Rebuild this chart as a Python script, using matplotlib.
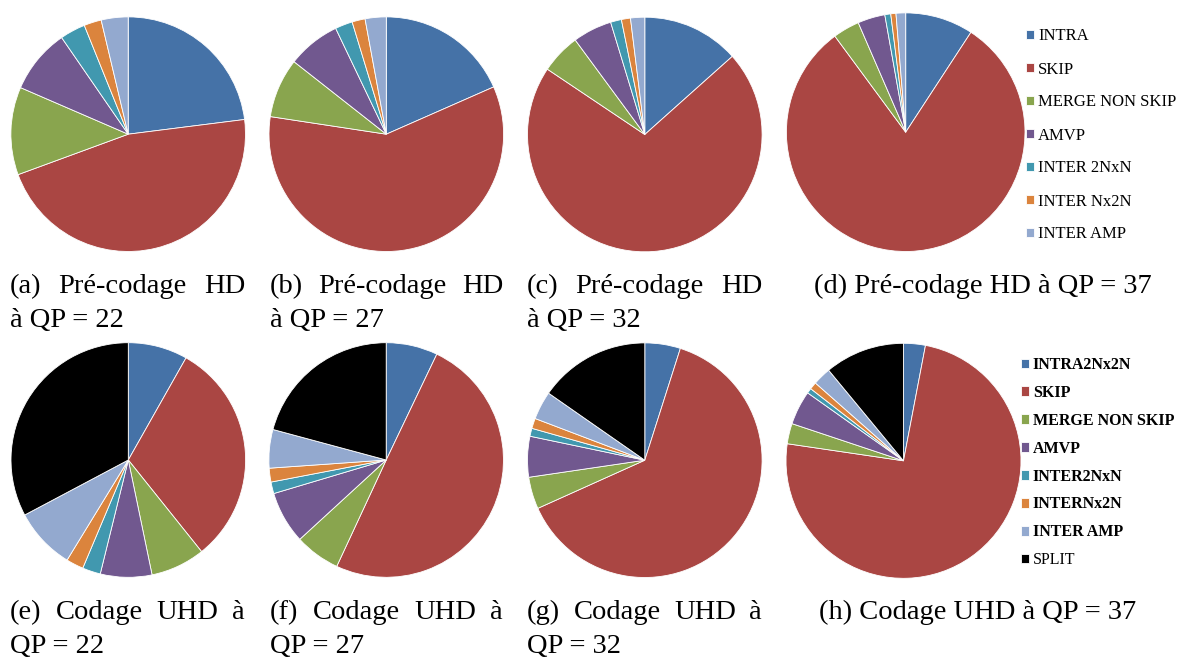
import matplotlib
matplotlib.use("Agg")
import matplotlib.pyplot as plt
from matplotlib.font_manager import FontProperties

W, H = 1182, 657

# Category names and shares (%) of each coding mode
hd_labels = ["INTRA", "SKIP", "MERGE NON SKIP", "AMVP",
             "INTER 2NxN", "INTER Nx2N", "INTER AMP"]
uhd_labels = ["INTRA2Nx2N", "SKIP", "MERGE NON SKIP", "AMVP",
              "INTER2NxN", "INTERNx2N", "INTER AMP", "SPLIT"]

hd_qp22 = [23.0, 46.4, 12.1, 8.9, 3.5, 2.4, 3.7]
hd_qp27 = [18.4, 59.0, 8.2, 7.3, 2.4, 1.8, 2.9]
hd_qp32 = [13.4, 71.0, 5.5, 5.4, 1.5, 1.25, 1.95]
hd_qp37 = [9.2, 80.6, 3.6, 3.7, 0.8, 0.7, 1.3]

uhd_qp22 = [8.2, 31.1, 7.5, 7.1, 2.5, 2.4, 8.5, 32.8]
uhd_qp27 = [7.1, 49.8, 6.25, 7.2, 1.6, 1.9, 5.3, 20.8]
uhd_qp32 = [4.9, 63.3, 4.4, 5.6, 1.1, 1.4, 3.9, 15.3]
uhd_qp37 = [3.0, 74.4, 2.8, 4.7, 0.7, 1.0, 2.5, 11.0]

hd_colors = ["#4572A7", "#AA4643", "#89A54E", "#71588F",
             "#4198AF", "#DB843D", "#93A9CF"]
uhd_colors = hd_colors + ["#000000"]

serif = "Liberation Serif"
cap_fp = FontProperties(family=serif, size=20.5)

fig = plt.figure(figsize=(W / 100, H / 100), dpi=100)
ax = fig.add_axes([0, 0, 1, 1])

# (values, colors, centre x, centre y (from top), radius)
pies = [
    (hd_qp22, hd_colors, 128.2, 134.2, 117.3),
    (hd_qp27, hd_colors, 386.3, 134.2, 117.3),
    (hd_qp32, hd_colors, 644.8, 134.5, 117.3),
    (hd_qp37, hd_colors, 905.7, 132.2, 119.3),
    (uhd_qp22, uhd_colors, 128.3, 460.0, 117.3),
    (uhd_qp27, uhd_colors, 386.2, 460.0, 117.3),
    (uhd_qp32, uhd_colors, 644.8, 460.2, 117.3),
    (uhd_qp37, uhd_colors, 903.5, 460.8, 117.5),
]

wedge_sets = []
for vals, cols, cx, cy, r in pies:
    wedges, _ = ax.pie(vals, colors=cols, startangle=90, counterclock=False,
                       center=(cx, H - cy), radius=r,
                       wedgeprops=dict(edgecolor="white", linewidth=0.6))
    wedge_sets.append(wedges)

ax.set_xlim(0, W)
ax.set_ylim(0, H)
ax.set_aspect("auto")
ax.axis("off")

renderer = fig.canvas.get_renderer()


def justified(words, x0, x1, y):
    """Spread words so the line runs from x0 to x1 (pixel units)."""
    texts = [ax.text(0, H - y, w, fontproperties=cap_fp, va="baseline",
                     ha="left") for w in words]
    widths = [t.get_window_extent(renderer).width for t in texts]
    gap = (x1 - x0 - sum(widths)) / (len(words) - 1)
    x = x0
    for t, w in zip(texts, widths):
        t.set_x(x)
        x += w + gap


def plain(s, x, y, ha="left"):
    ax.text(x, H - y, s, fontproperties=cap_fp, va="baseline", ha=ha)


# Sub-figure captions
columns = [(10, 245), (270, 503), (527, 762)]
top_tags = ["(a)", "(b)", "(c)"]
top_qp = ["22", "27", "32"]
for (x0, x1), tag, qp in zip(columns, top_tags, top_qp):
    justified([tag, "Pré-codage", "HD"], x0, x1, 293)
    plain(f"à QP = {qp}", x0, 327)
plain("(d) Pré-codage HD à QP = 37", 983, 293, ha="center")

bot_tags = ["(e)", "(f)", "(g)"]
for (x0, x1), tag, qp in zip(columns, bot_tags, top_qp):
    justified([tag, "Codage", "UHD", "à"], x0, x1, 619)
    plain(f"QP = {qp}", x0, 653)
plain("(h) Codage UHD à QP = 37", 978, 619, ha="center")

# Legends
leg_top = ax.legend(wedge_sets[3], hd_labels, loc="upper left",
                    bbox_to_anchor=(1025.7, H - 28.5), bbox_transform=ax.transData,
                    frameon=False, borderpad=0, borderaxespad=0,
                    handlelength=0.5, handleheight=0.5, handletextpad=0.25,
                    labelspacing=1.02, prop=FontProperties(family=serif, size=12))
ax.add_artist(leg_top)

leg_bot = ax.legend(wedge_sets[7], uhd_labels, loc="upper left",
                    bbox_to_anchor=(1020.7, H - 357.0), bbox_transform=ax.transData,
                    frameon=False, borderpad=0, borderaxespad=0,
                    handlelength=0.54, handleheight=0.54, handletextpad=0.22,
                    labelspacing=0.745,
                    prop=FontProperties(family=serif, size=11.5, weight="bold"))
leg_bot.get_texts()[-1].set_fontweight("normal")

fig.savefig("out.png", dpi=100)
